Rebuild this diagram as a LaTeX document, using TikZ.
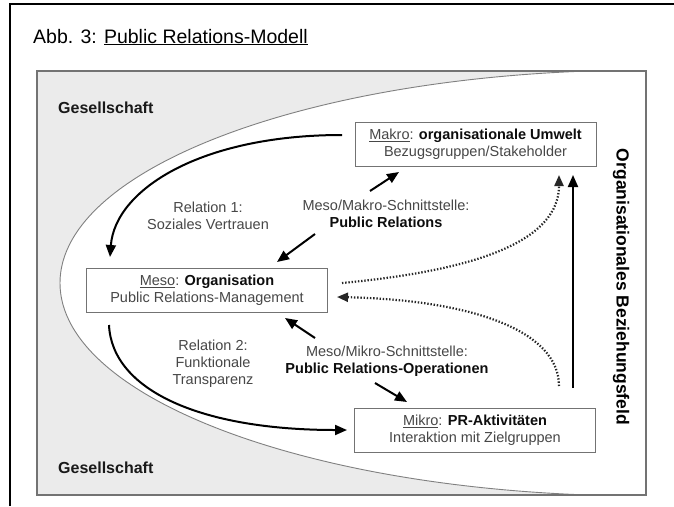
\documentclass[tikz,border=0pt]{standalone}
\usepackage{fontspec}
\setmainfont{Liberation Sans}
\usetikzlibrary{arrows.meta}

\definecolor{grau}{HTML}{EBEBEB}
\newcommand{\fett}[1]{\textbf{\color{black!95}#1}}

\begin{document}
\begin{tikzpicture}[
                x=1pt, y=-1pt,% pixel coordinates, y downwards
                every node/.style={font=\fontsize{14.5}{17}\selectfont, text=black!72, align=center, inner sep=0pt},
                ebene/.style={draw=black!55, line width=1pt, fill=white, minimum width=241pt, minimum height=44pt},
                pfeil/.style={-{Triangle[length=12pt,width=10pt]}, line width=2pt},
                punkte/.style={-{Triangle[length=11pt,width=9pt]}, line width=2.2pt, black!85, dash pattern=on 1.4pt off 1.8pt},
                gesell/.style={font=\fontsize{16}{19}\selectfont\bfseries, text=black!90, anchor=base west}
            ]

                \useasboundingbox (0,0) rectangle (674,506);

                % frame and title
                \draw[line width=2.5pt] (10,506) -- (10,4) -- (674,4);
                \node[anchor=base west, font=\fontsize{19.5}{22}\selectfont, text=black] (titel) at (33,43) {Abb. 3: \underline{Public Relations-Modell}};

                % society and relational field
                \fill[grau] (37,71) rectangle (646,495);
                \begin{scope}
                    \clip (37,71) rectangle (646,495);
                    \draw[fill=white, draw=black!50, line width=0.9pt] (645,283) ellipse [x radius=585pt, y radius=213pt];
                \end{scope}
                \draw[black!55, line width=1.2pt] (37,71) rectangle (646,495);

                \node[gesell] (ges1) at (58,113) {Gesellschaft};
                \node[gesell] (ges2) at (58,473) {Gesellschaft};
                \node[rotate=-90, font=\fontsize{17.5}{20}\selectfont\bfseries, text=black] (feld) at (621,287) {Organisationales Beziehungsfeld};

                % levels
                \node[ebene] (makro) at (475.5,144) {\underline{Makro}: \fett{organisationale Umwelt}\\Bezugsgruppen/Stakeholder};
                \node[ebene] (meso) at (207,290) {\underline{Meso}: \fett{Organisation}\\Public Relations-Management};
                \node[ebene] (mikro) at (475,430) {\underline{Mikro}: \fett{PR-Aktivitäten}\\Interaktion mit Zielgruppen};

                \node (rel1) at (208,215.5) {Relation 1:\\Soziales Vertrauen};
                \node (pr) at (386,214) {Meso/Makro-Schnittstelle:\\\fett{Public Relations}};
                \node (rel2) at (213,364) {Relation 2:\\Funktionale\\Transparenz};
                \node (pro) at (387,361.5) {Meso/Mikro-Schnittstelle:\\\fett{Public Relations-Operationen}};

                % arrow ends
                \coordinate (r1a) at (342,135);   \coordinate (r1b) at (110,257);
                \coordinate (r2a) at (109,325);   \coordinate (r2b) at (347,430);
                \coordinate (pr1) at (370,191);   \coordinate (pr2) at (399,172);
                \coordinate (pr3) at (315,234);   \coordinate (pr4) at (277,262);
                \coordinate (po1) at (315,338);   \coordinate (po2) at (285,318);
                \coordinate (po3) at (375,383);   \coordinate (po4) at (407,402);
                \coordinate (d1a) at (342,283);   \coordinate (d1b) at (559,175);
                \coordinate (d2a) at (559,386);   \coordinate (d2b) at (337,297);
                \coordinate (v1) at (573,388);    \coordinate (v2) at (573,175);

                \draw[pfeil] (r1a) .. controls (200,135) and (115,190) .. (r1b);
                \draw[pfeil] (r2a) .. controls (112,390) and (200,430) .. (r2b);
                \draw[pfeil] (pr1) -- (pr2);
                \draw[pfeil] (pr3) -- (pr4);
                \draw[pfeil] (po1) -- (po2);
                \draw[pfeil] (po3) -- (po4);
                \draw[pfeil] (v1) -- (v2);

                \draw[punkte] (d1a) .. controls (480,270) and (559,240) .. (d1b);
                \draw[punkte] (d2a) .. controls (559,330) and (470,300) .. (d2b);

            \end{tikzpicture}
\end{document}
